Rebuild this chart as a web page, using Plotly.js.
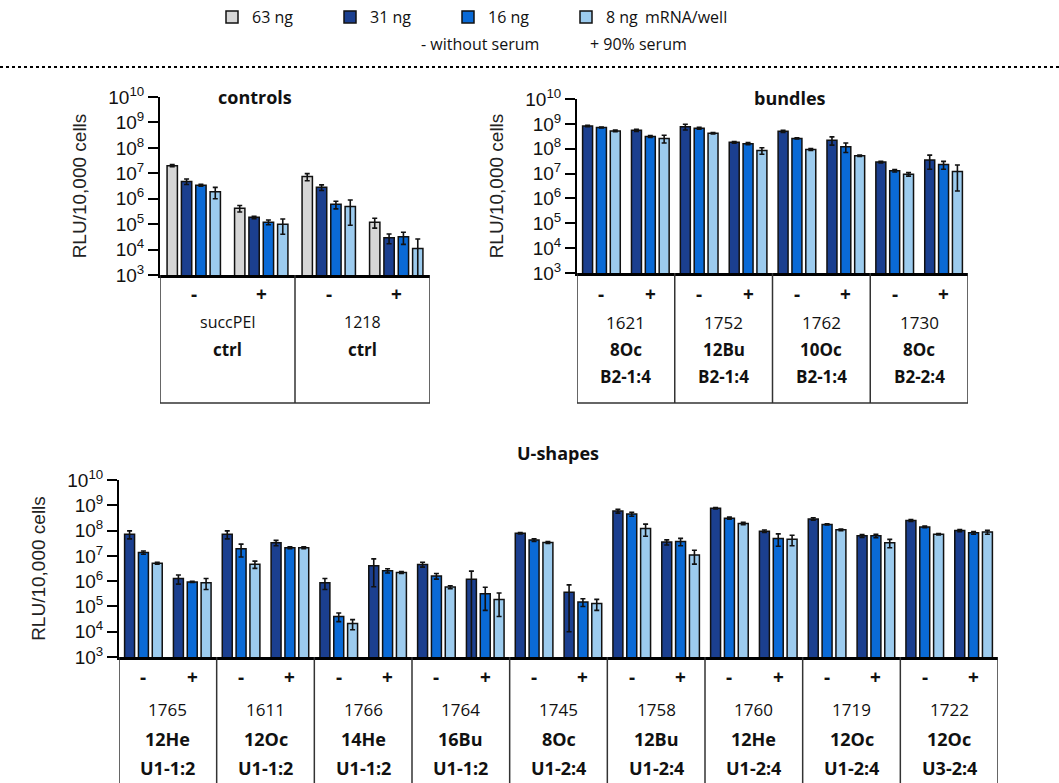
<!DOCTYPE html>
<html>
<head>
<meta charset="utf-8">
<script src="https://cdn.plot.ly/plotly-3.0.1.min.js"></script>
<style>html,body{margin:0;padding:0;background:#fff;}#chart{width:1059px;height:783px;}</style>
</head>
<body>
<div id="chart"></div>
<script>
// ---------- data ----------
const doseNames = ['63 ng', '31 ng', '16 ng', '8 ng'];
const doseColors = ['#d6d6d6', '#1b3f8f', '#0a6ad6', '#9ccbee'];

const controlsCats = ['succPEI -', 'succPEI +', '1218 -', '1218 +'];
const controlsSigns = ['-', '+', '-', '+'];
const controlsIds = ['succPEI', '1218'];
const controlsNames = ['ctrl', 'ctrl'];
const ctrl63 = [2.0e7, 4.2e5, 7.4e6, 1.2e5];
const ctrl31 = [4.8e6, 1.85e5, 2.8e6, 2.9e4];
const ctrl16 = [3.4e6, 1.2e5, 6.0e5, 3.2e4];
const ctrl8 = [1.9e6, 1.0e5, 4.9e5, 1.1e4];
const ctrl63Err = [2.0e6, 1.2e5, 2.3e6, 5.0e4];
const ctrl31Err = [1.2e6, 2.0e4, 7.0e5, 1.2e4];
const ctrl16Err = [3.0e5, 2.5e4, 2.0e5, 1.6e4];
const ctrl8Err = [9.0e5, 6.0e4, 4.0e5, 1.5e4];

const bundleCats = ['1621 -', '1621 +', '1752 -', '1752 +', '1762 -', '1762 +', '1730 -', '1730 +'];
const bundleSigns = ['-', '+', '-', '+', '-', '+', '-', '+'];
const bundleIds = ['1621', '1752', '1762', '1730'];
const bundleNames = ['8Oc', '12Bu', '10Oc', '8Oc'];
const bundleTypes = ['B2-1:4', 'B2-1:4', 'B2-1:4', 'B2-2:4'];
const bund31 = [8.2e8, 5.5e8, 7.7e8, 1.8e8, 5.0e8, 2.2e8, 2.9e7, 3.5e7];
const bund16 = [7.1e8, 3.1e8, 6.7e8, 1.6e8, 2.6e8, 1.2e8, 1.3e7, 2.3e7];
const bund8 = [5.2e8, 2.6e8, 4.2e8, 8.5e7, 9.3e7, 5.2e7, 9.4e6, 1.2e7];
const bund31Err = [5e7, 6e7, 2e8, 1.5e7, 5e7, 8e7, 2e6, 2e7];
const bund16Err = [3e7, 2.5e7, 6e7, 1.5e7, 1.5e7, 5e7, 1.5e6, 8e6];
const bund8Err = [4e7, 9e7, 3e7, 2.5e7, 8e6, 3e6, 1.5e6, 1e7];

const uCats = ['1765 -', '1765 +', '1611 -', '1611 +', '1766 -', '1766 +', '1764 -', '1764 +', '1745 -', '1745 +',
               '1758 -', '1758 +', '1760 -', '1760 +', '1719 -', '1719 +', '1722 -', '1722 +'];
const uSigns = ['-', '+', '-', '+', '-', '+', '-', '+', '-', '+', '-', '+', '-', '+', '-', '+', '-', '+'];
const uIds = ['1765', '1611', '1766', '1764', '1745', '1758', '1760', '1719', '1722'];
const uNames = ['12He', '12Oc', '14He', '16Bu', '8Oc', '12Bu', '12He', '12Oc', '12Oc'];
const uTypes = ['U1-1:2', 'U1-1:2', 'U1-1:2', 'U1-1:2', 'U1-2:4', 'U1-2:4', 'U1-2:4', 'U1-2:4', 'U3-2:4'];
const u31 = [7.2e7, 1.26e6, 7.2e7, 3.3e7, 8.7e5, 4.1e6, 4.6e6, 1.2e6, 7.8e7, 3.6e5, 5.9e8, 3.5e7, 7.6e8, 9.5e7, 2.9e8, 6.2e7, 2.5e8, 1.0e8];
const u16 = [1.35e7, 9.3e5, 1.9e7, 2.1e7, 4.0e4, 2.6e6, 1.6e6, 3.2e5, 4.2e7, 1.5e5, 4.5e8, 3.7e7, 3.1e8, 4.9e7, 1.75e8, 6.2e7, 1.4e8, 8.2e7];
const u8 = [5.1e6, 8.7e5, 4.7e6, 2.1e7, 2.1e4, 2.2e6, 5.8e5, 1.9e5, 3.4e7, 1.3e5, 1.2e8, 1.07e7, 1.9e8, 4.5e7, 1.07e8, 3.3e7, 7.2e7, 8.7e7];
const u31Err = [2.5e7, 5e5, 2.5e7, 8e6, 4e5, 3.5e6, 1e6, 1.3e6, 5e6, 3.5e5, 1e8, 8e6, 5e7, 1e7, 3e7, 8e6, 2e7, 1e7];
const u16Err = [2e6, 5e4, 1e7, 2e6, 1.5e4, 5e5, 4e5, 2.5e5, 5e6, 5e4, 8e7, 1.2e7, 3e7, 2.5e7, 1e7, 1e7, 1e7, 1e7];
const u8Err = [4e5, 4e5, 1.5e6, 2e6, 9e3, 2e5, 8e4, 1.5e5, 3e6, 6e4, 6e7, 6e6, 2e7, 2e7, 8e6, 1.2e7, 5e6, 1.5e7];

const yTickVals = [1e3, 1e4, 1e5, 1e6, 1e7, 1e8, 1e9, 1e10];
const yTickText = ['10<sup>3</sup>', '10<sup>4</sup>', '10<sup>5</sup>', '10<sup>6</sup>', '10<sup>7</sup>', '10<sup>8</sup>', '10<sup>9</sup>', '10<sup>10</sup>'];
const yTitle = 'RLU/10,000 cells';
const panelTitles = ['controls', 'bundles', 'U-shapes'];

// ---------- layout helpers ----------
const W = 1059, H = 783;
const px = v => v / W;
const py = v => 1 - v / H;
const tableFont = 'Open Sans, Noto Sans, sans-serif';
const axisFont = 'Liberation Sans, Arial, sans-serif';

function barTrace(x, y, err, idx, xa, ya, legend) {
  return {
    type: 'bar', x: x, y: y, name: doseNames[idx], xaxis: xa, yaxis: ya,
    legendgroup: doseNames[idx], showlegend: legend,
    marker: {color: doseColors[idx], line: {color: '#111', width: 1.5}},
    error_y: {type: 'data', array: err, visible: true, color: '#111', thickness: 1.6, width: 2.5}
  };
}

const traces = [
  barTrace(controlsCats, ctrl63, ctrl63Err, 0, 'x', 'y', true),
  barTrace(controlsCats, ctrl31, ctrl31Err, 1, 'x', 'y', true),
  barTrace(controlsCats, ctrl16, ctrl16Err, 2, 'x', 'y', true),
  barTrace(controlsCats, ctrl8, ctrl8Err, 3, 'x', 'y', true),
  barTrace(bundleCats, bund31, bund31Err, 1, 'x2', 'y2', false),
  barTrace(bundleCats, bund16, bund16Err, 2, 'x2', 'y2', false),
  barTrace(bundleCats, bund8, bund8Err, 3, 'x2', 'y2', false),
  barTrace(uCats, u31, u31Err, 1, 'x3', 'y3', false),
  barTrace(uCats, u16, u16Err, 2, 'x3', 'y3', false),
  barTrace(uCats, u8, u8Err, 3, 'x3', 'y3', false)
];

function xAxis(domain, yAnchor, n) {
  return {
    domain: domain, anchor: yAnchor, type: 'category', range: [-0.5, n - 0.5],
    showticklabels: false, ticks: '', showgrid: false, zeroline: false,
    showline: true, linecolor: '#000', linewidth: 2.5, fixedrange: true
  };
}
function yAxis(domain, xAnchor, standoff) {
  return {
    domain: domain, anchor: xAnchor, type: 'log', range: [3, 10],
    tickmode: 'array', tickvals: yTickVals, ticktext: yTickText,
    ticks: 'outside', ticklen: 10, tickwidth: 2, tickcolor: '#000',
    tickfont: {family: axisFont, size: 19, color: '#111'},
    showline: true, linecolor: '#000', linewidth: 2, showgrid: false, zeroline: false,
    title: {text: yTitle, font: {family: axisFont, size: 19, color: '#222'}, standoff: standoff},
    fixedrange: true
  };
}

const annotations = [];
const shapes = [];

function ann(text, x, xref, ypx, size, bold, extra) {
  annotations.push(Object.assign({
    text: bold ? '<b>' + text + '</b>' : text, x: x, xref: xref, y: py(ypx), yref: 'paper',
    showarrow: false, xanchor: 'center', yanchor: 'middle',
    font: {family: tableFont, size: size, color: '#111'}
  }, extra || {}));
}

// panel titles
ann(panelTitles[0], px(255), 'paper', 97, 18, true);
ann(panelTitles[1], px(790), 'paper', 98, 18, true);
ann(panelTitles[2], px(558), 'paper', 453, 18, true);

// legend extras
ann('mRNA/well', px(686), 'paper', 17, 16, false);
ann('- without serum', px(480), 'paper', 44, 16, false);
ann('+ 90% serum', px(638), 'paper', 44, 16, false);

// dotted separator
shapes.push({type: 'line', xref: 'paper', yref: 'paper', x0: 0, x1: 1, y0: py(67), y1: py(67),
             line: {color: '#000', width: 2, dash: 'dot'}});

// table builder
function table(xref, cats, signs, rows, topPx, bottomPx, rowPx, sizes, bottomLine) {
  cats.forEach((c, i) => ann(signs[i], c, xref, rowPx[0], sizes[0], true));
  const nGroups = cats.length / 2;
  for (let g = 0; g < nGroups; g++) {
    rows.forEach((r, k) => ann(r.vals[g], 2 * g + 0.5, xref, rowPx[k + 1], sizes[k + 1], r.bold));
  }
  for (let g = 0; g <= nGroups; g++) {
    shapes.push({type: 'line', xref: xref, yref: 'paper', x0: 2 * g - 0.5, x1: 2 * g - 0.5,
                 y0: py(topPx), y1: py(bottomPx), line: {color: '#333', width: 1.5}});
  }
  if (bottomLine) {
    shapes.push({type: 'line', xref: xref, yref: 'paper', x0: -0.5, x1: cats.length - 0.5,
                 y0: py(bottomPx), y1: py(bottomPx), line: {color: '#333', width: 1.5}});
  }
}

table('x', controlsCats, controlsSigns,
      [{vals: controlsIds, bold: false}, {vals: controlsNames, bold: true}],
      275, 403, [294, 322, 349], [19, 16, 17], true);
table('x2', bundleCats, bundleSigns,
      [{vals: bundleIds, bold: false}, {vals: bundleNames, bold: true}, {vals: bundleTypes, bold: true}],
      273, 403, [294, 322, 349, 376], [19, 17, 17, 17], true);
table('x3', uCats, uSigns,
      [{vals: uIds, bold: false}, {vals: uNames, bold: true}, {vals: uTypes, bold: true}],
      657, 790, [677, 709, 739, 768], [19, 17, 18, 18], false);

const layout = {
  width: W, height: H,
  margin: {l: 0, r: 0, t: 0, b: 0},
  paper_bgcolor: '#fff', plot_bgcolor: 'rgba(0,0,0,0)',
  barmode: 'group', bargap: 0.15, bargroupgap: 0.28,
  showlegend: true,
  legend: {
    orientation: 'h', x: px(212), xanchor: 'left', y: 1, yanchor: 'top',
    font: {family: tableFont, size: 16, color: '#111'},
    entrywidth: 73, entrywidthmode: 'pixels', traceorder: 'normal',
    bgcolor: 'rgba(0,0,0,0)'
  },
  xaxis: xAxis([px(160), px(430)], 'y', controlsCats.length),
  yaxis: yAxis([py(275), py(97)], 'x', 17),
  xaxis2: xAxis([px(577), px(968)], 'y2', bundleCats.length),
  yaxis2: yAxis([py(273), py(99)], 'x2', 17),
  xaxis3: xAxis([px(119), px(998)], 'y3', uCats.length),
  yaxis3: yAxis([py(657), py(480)], 'x3', 17),
  annotations: annotations,
  shapes: shapes
};

Plotly.newPlot('chart', traces, layout, {displayModeBar: false, staticPlot: true});
</script>
</body>
</html>
